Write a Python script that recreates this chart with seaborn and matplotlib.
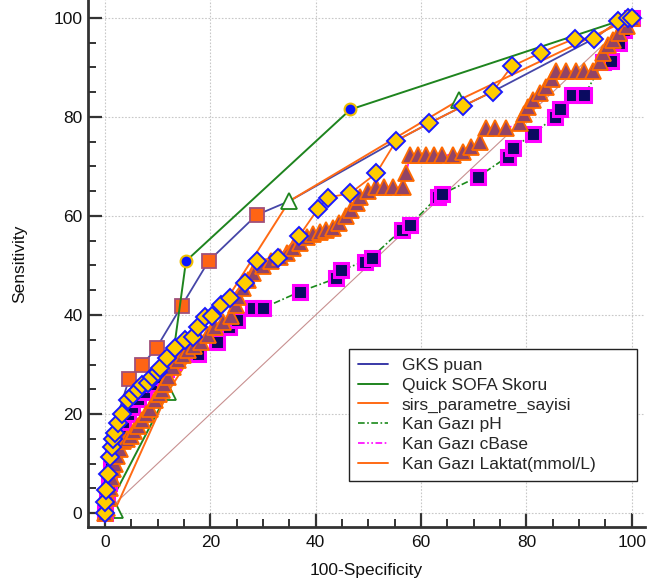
import matplotlib
matplotlib.use("Agg")
import matplotlib.pyplot as plt
from matplotlib.lines import Line2D
from matplotlib.ticker import MultipleLocator
import seaborn as sns
import pandas as pd

# ROC curve coordinates (100-Specificity, Sensitivity)
gks_x = [0, 0.5, 1.2, 2.5, 4.6, 7.1, 9.8, 14.6, 19.7, 28.8, 35.0, 55.3, 61.5, 68.0, 73.6, 92.8, 97.4, 100]
gks_y = [0, 5, 12, 20, 27.1, 29.9, 33.4, 41.9, 50.9, 60.2, 63.0, 75.2, 78.7, 82.2, 85.1, 95.8, 99.3, 100]

qsofa_x = [0, 12.0, 15.4, 46.6, 97.4, 100]
qsofa_y = [0, 24.5, 50.9, 81.5, 99.3, 100]

sirs_x = [0, 1.9, 12.0, 35.0, 67.2, 100]
sirs_y = [0, 0.6, 24.5, 63.0, 83.4, 100]

ph_x = [0, 0.4, 0.8, 1.2, 1.6, 2.2, 2.8, 3.5, 4.3, 5.2, 6.2, 7.4, 8.8, 10.2, 11.6, 13.0,
        15.2, 17.7, 21.2, 23.5, 25.0, 28.1, 30.0, 37.0, 43.9, 44.9, 49.3, 50.6, 56.3, 57.9,
        63.2, 63.9, 70.8, 76.5, 77.5, 81.3, 85.4, 86.3, 88.6, 91.0, 94.5, 96.1, 97.5, 98.5, 100]
ph_y = [0, 3, 6, 9, 12, 15, 17, 18.5, 20, 21.5, 23, 24.5, 26, 27.5, 29, 30.5,
        32.1, 32.1, 34.6, 37.5, 39.0, 41.4, 41.4, 44.7, 47.4, 49.1, 50.8, 51.6, 57.2, 58.2,
        63.9, 64.4, 67.9, 72.0, 73.7, 76.6, 80.0, 81.5, 84.4, 84.4, 91.0, 91.3, 95.0, 97.5, 100]

cbase_x = [0, 0.5, 0.8, 1.0, 1.3, 1.6, 2.0, 2.3, 2.8, 3.5, 4.2, 5.0, 5.6, 6.2, 7.0, 7.8, 8.5,
           9.5, 10.2, 10.8, 11.3, 12.0, 13.0, 13.9, 14.8, 15.8, 17.0, 18.3, 19.5, 20.9, 22.5,
           24.0, 24.8, 25.3, 26.2, 27.2, 28.1, 30.0, 31.5, 33.2, 34.5, 35.7, 37.0, 38.3, 39.5,
           40.8, 42.0, 43.3, 44.5, 45.8, 46.8, 47.8, 48.4, 50.0, 51.5, 53.0, 54.7, 56.6, 57.2,
           57.9, 59.5, 61.0, 62.5, 64.0, 66.0, 68.0, 69.5, 71.2, 72.4, 74.0, 76.2, 78.7, 79.5,
           80.3, 81.3, 82.5, 83.8, 84.8, 85.7, 87.5, 89.5, 91.0, 92.7, 93.9, 94.5, 95.5, 96.5,
           97.5, 99.0, 100]
cbase_y = [0, 1, 3, 5, 7, 9, 10, 11.5, 13, 14.5, 15, 15.5, 16.5, 17.5, 18.8, 20, 21,
           22.8, 24, 24.8, 26, 27.5, 29.5, 30.9, 32, 32.9, 33.8, 34.6, 36, 37.6, 38.5,
           39.7, 42, 43.7, 45.5, 47.1, 48.5, 49.8, 51, 51.8, 52.5, 53.5, 54.5, 55.8, 56.3,
           56.8, 57.1, 57.5, 58.5, 59.9, 61.2, 62.6, 63.9, 65.0, 65.9, 65.9, 65.9, 65.9, 68.6,
           72.3, 72.3, 72.3, 72.3, 72.3, 72.3, 73.0, 74.0, 75.0, 77.7, 77.7, 77.7, 78.7, 80.5,
           82.0, 83.4, 84.8, 86.1, 87.6, 89.2, 89.2, 89.2, 89.2, 89.2, 91.0, 93.0, 94.5, 95.6,
           97.0, 98.3, 100]

lak_x = [0, 0.0, 0.3, 0.6, 0.9, 1.3, 1.6, 1.9, 2.5, 3.2, 4.4, 5.3, 6.3, 7.0, 8.2, 8.9, 10.1,
         10.4, 11.7, 13.3, 15.2, 16.8, 17.7, 19.0, 20.4, 22.1, 23.7, 26.6, 28.8, 32.8, 36.9,
         40.5, 42.3, 46.6, 51.5, 55.3, 61.5, 68.0, 73.6, 77.2, 82.8, 89.2, 92.8, 97.4, 99.2, 100]
lak_y = [0, 2.3, 4.6, 8.0, 11.4, 13.4, 15.0, 16.1, 18.1, 20.1, 22.8, 23.8, 24.8, 25.9, 26.2, 27.5, 28.5,
         29.3, 31.3, 33.4, 34.9, 35.6, 37.5, 39.5, 39.8, 42.0, 43.4, 46.4, 51.0, 51.6, 56.0,
         61.5, 63.7, 64.6, 68.6, 75.2, 78.7, 82.2, 85.1, 90.2, 93.0, 95.8, 95.8, 99.3, 100, 100]

labels = ["GKS puan", "Quick SOFA Skoru", "sirs_parametre_sayisi",
          "Kan Gazı pH", "Kan Gazı cBase", "Kan Gazı Laktat(mmol/L)"]

sns.set_theme(style="white")
plt.rcParams["font.family"] = ["Liberation Sans", "DejaVu Sans"]

FS = 12.5

fig = plt.figure(figsize=(6.58, 5.83), dpi=100)
ax = fig.add_axes([88 / 658, 1 - 527 / 583, 557 / 658, 527 / 583])

# diagonal reference line
diag = pd.DataFrame({"x": [0, 100], "y": [0, 100]})
sns.lineplot(data=diag, x="x", y="y", ax=ax, color="#c89090", lw=0.8,
             estimator=None, sort=False, zorder=2)

def curve(xs, ys, **kw):
    df = pd.DataFrame({"x": xs, "y": ys})
    sns.lineplot(data=df, x="x", y="y", ax=ax, estimator=None, sort=False, **kw)

c_navy = "#4646a8"
c_green = "#1e841e"
c_orange = "#ff6a14"
c_magenta = "#ff00ff"

curve(gks_x, gks_y, color=c_navy, lw=1.3, marker="s", markersize=9.5,
      markerfacecolor="#ff6414", markeredgecolor="#a0507a", markeredgewidth=1.3,
      markevery=list(range(4, 10)), zorder=3)
curve(qsofa_x, qsofa_y, color=c_green, lw=1.4, marker="o", markersize=8.5,
      markerfacecolor="#0a14ff", markeredgecolor="#f0c000", markeredgewidth=1.5,
      markevery=[2, 3], zorder=3)
curve(sirs_x, sirs_y, color=c_orange, lw=1.4, marker="^", markersize=12,
      markerfacecolor="white", markeredgecolor=c_green, markeredgewidth=1.3,
      markevery=[1, 2, 3, 4], zorder=3)
curve(ph_x, ph_y, color="#1a8a1a", lw=1.2, linestyle=(0, (4, 1.5, 1, 1.5)),
      marker="s", markersize=9.5, markerfacecolor="#0a0a60",
      markeredgecolor=c_magenta, markeredgewidth=2.2, zorder=4)
curve(cbase_x, cbase_y, color=c_magenta, lw=1.2, linestyle=(0, (4, 1.5, 1, 1.5, 1, 1.5)),
      marker="^", markersize=11.5, markerfacecolor="#924466",
      markeredgecolor="#ff6a00", markeredgewidth=1.3, zorder=5)
curve(lak_x, lak_y, color=c_orange, lw=1.3, marker="D", markersize=9,
      markerfacecolor="#ffcc00", markeredgecolor="#1a1aff", markeredgewidth=1.4, zorder=6)

ax.set_xlim(-3.2, 102.5)
ax.set_ylim(-2.8, 103.6)
ax.xaxis.set_major_locator(MultipleLocator(20))
ax.yaxis.set_major_locator(MultipleLocator(20))
ax.xaxis.set_minor_locator(MultipleLocator(5))
ax.yaxis.set_minor_locator(MultipleLocator(5))
ax.grid(True, which="major", color="#c8c8c8", linestyle=(0, (1.5, 1.5)), lw=0.8)
ax.set_axisbelow(True)

for side in ["top", "right"]:
    ax.spines[side].set_visible(False)
for side in ["left", "bottom"]:
    ax.spines[side].set_color("#333333")
    ax.spines[side].set_linewidth(2.0)

ax.tick_params(which="major", direction="in", length=10, width=1.6, color="#333333",
               labelsize=FS, labelcolor="#111111", pad=4)
ax.tick_params(which="minor", direction="in", length=5.5, width=1.4, color="#333333")
ax.tick_params(axis="x", which="both", bottom=True)
ax.tick_params(axis="y", which="both", left=True)
ax.tick_params(axis="x", which="major", pad=6)

ax.set_xlabel("100-Specificity", fontsize=FS, color="#111111", labelpad=9)
ax.set_ylabel("Sensitivity", fontsize=FS, color="#111111", labelpad=19)

handles = [
    Line2D([], [], color="#2a2aa0", lw=1.3),
    Line2D([], [], color=c_green, lw=1.4),
    Line2D([], [], color=c_orange, lw=1.4),
    Line2D([], [], color="#1a8a1a", lw=1.2, linestyle=(0, (4, 1.5, 1, 1.5))),
    Line2D([], [], color=c_magenta, lw=1.2, linestyle=(0, (4, 1.5, 1, 1.5, 1, 1.5))),
    Line2D([], [], color=c_orange, lw=1.4),
]
leg_x0 = (349 - 88) / 557
leg_top = 1 - 349 / 527
leg = ax.legend(handles, labels, loc="upper left",
                bbox_to_anchor=(leg_x0, 0.0, (637 - 349) / 557, leg_top),
                mode="expand", borderaxespad=0, fancybox=False, frameon=True,
                framealpha=1, edgecolor="#222222", fontsize=FS, handlelength=1.75,
                handletextpad=0.8, labelspacing=0.27, borderpad=0.5)
leg.get_frame().set_linewidth(1.0)

fig.savefig("out.png", dpi=100)
